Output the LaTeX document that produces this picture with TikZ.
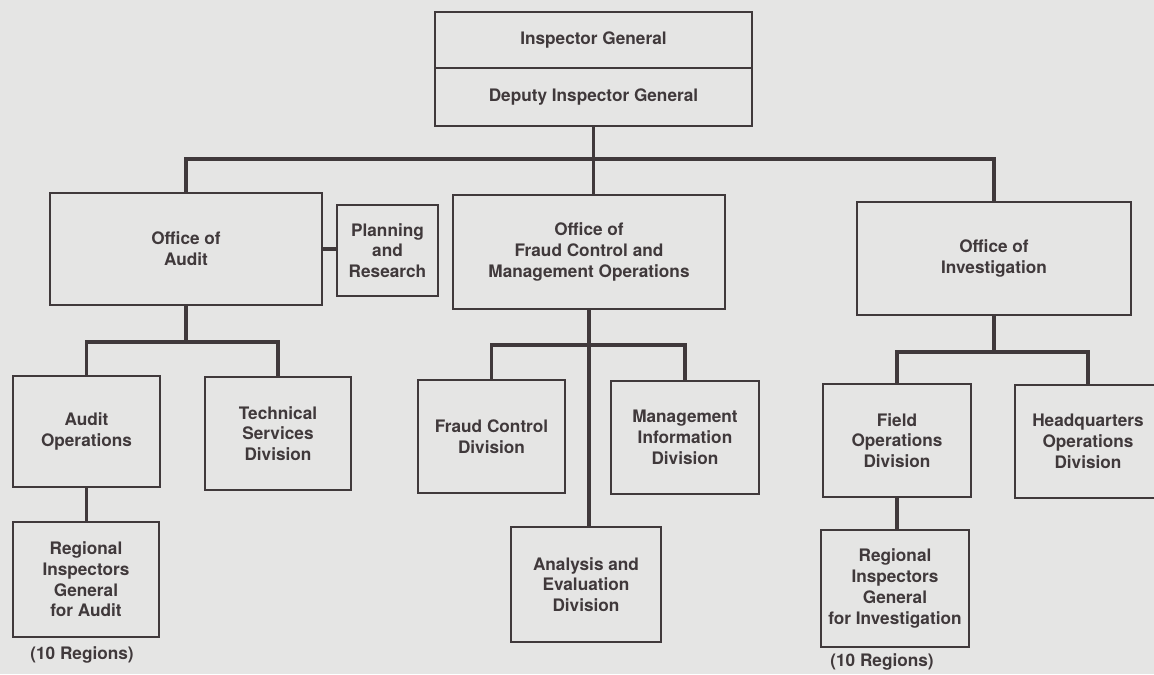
\documentclass[tikz,border=0pt]{standalone}
\usepackage{fontspec}
\setmainfont{TeX Gyre Heros}
\usepackage{tikz}

\definecolor{paper}{RGB}{229,229,228}
\definecolor{ink}{RGB}{64,57,59}

\begin{document}
\begin{tikzpicture}[x=0.02cm,y=-0.02cm]
  \tikzset{
    unit/.style={draw=ink,line width=1.1pt,align=center,text=ink,inner sep=0pt,
      font=\bfseries\fontsize{9.8}{11.8}\selectfont},
    link/.style={draw=ink,line width=2pt},
    note/.style={text=ink,font=\bfseries\fontsize{9.8}{11.8}\selectfont}
  }
  \useasboundingbox (0,0) rectangle (1154,674);
  \fill[paper] (0,0) rectangle (1154,674);

  % top
  \node[unit,minimum width=6.34cm,minimum height=1.12cm] (ig) at (593.5,40) {Inspector General};
  \node[unit,minimum width=6.34cm,minimum height=1.16cm] (dig) at (593.5,97) {Deputy Inspector General};

  % offices
  \node[unit,minimum width=5.44cm,minimum height=2.24cm] (audit) at (186,249) {Office of\\Audit};
  \node[unit,minimum width=2.02cm,minimum height=1.82cm] (plan) at (387.5,250.5) {Planning\\and\\Research};
  \node[unit,minimum width=5.44cm,minimum height=2.28cm] (fraud) at (589,252)
    {Office of\\Fraud Control and\\Management Operations};
  \node[unit,minimum width=5.48cm,minimum height=2.26cm] (invest) at (994,258.5) {Office of\\Investigation};

  % divisions
  \node[unit,minimum width=2.94cm,minimum height=2.22cm] (aops) at (86.5,431.5) {Audit\\Operations};
  \node[unit,minimum width=2.92cm,minimum height=2.26cm] (tsd) at (278,433.5) {Technical\\Services\\Division};
  \node[unit,minimum width=2.92cm,minimum height=2.30cm] (rigaud) at (86,579.5)
    {Regional\\Inspectors\\General\\for Audit};
  \node[unit,minimum width=2.94cm,minimum height=2.26cm] (fcd) at (491.5,436.5) {Fraud Control\\Division};
  \node[unit,minimum width=2.96cm,minimum height=2.26cm] (mid) at (685,437.5) {Management\\Information\\Division};
  \node[unit,minimum width=3.00cm,minimum height=2.30cm] (aed) at (586,584.5) {Analysis and\\Evaluation\\Division};
  \node[unit,minimum width=2.96cm,minimum height=2.26cm] (fod) at (897,440.5) {Field\\Operations\\Division};
  \node[unit,minimum width=2.92cm,minimum height=2.26cm] (hqod) at (1088,441.5) {Headquarters\\Operations\\Division};
  \node[unit,minimum width=2.96cm,minimum height=2.34cm] (riginv) at (895,588.5)
    {Regional\\Inspectors\\General\\for Investigation};

  \node[note] (regaud) at (82,655) {(10 Regions)};
  \node[note] (reginv) at (882,662) {(10 Regions)};

  % connectors
  \coordinate (abus) at (186,342);
  \coordinate (fbus) at (589,345);
  \coordinate (ibus) at (994,352);
  \draw[link] (dig.south) -- (dig.south |- fraud.north);
  \draw[link] (audit.north) -- ++(0,-33) -| (invest.north);
  \draw[link] (audit.east) -- (audit.east -| plan.west);
  \draw[link] (audit.south) -- (abus);
  \draw[link] (aops.north) |- (abus) -| (tsd.north);
  \draw[link] (aops.south) -- (aops.south |- rigaud.north);
  \draw[link] (fraud.south) -- (fraud.south |- aed.north);
  \draw[link] (fcd.north) |- (fbus) -| (mid.north);
  \draw[link] (invest.south) -- (ibus);
  \draw[link] (fod.north) |- (ibus) -| (hqod.north);
  \draw[link] (fod.south) -- (fod.south |- riginv.north);
\end{tikzpicture}
\end{document}
